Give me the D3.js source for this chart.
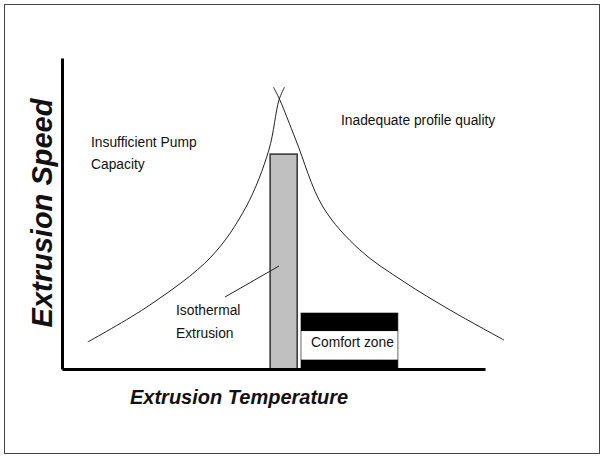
<!DOCTYPE html>
<html>
<head>
<meta charset="utf-8">
<script src="https://cdn.jsdelivr.net/npm/d3@7"></script>
<style>
  body { margin: 0; background: #fff; }
  text { font-family: "Liberation Sans", Arial, sans-serif; fill: #111; }
</style>
</head>
<body>
<div id="chart"></div>
<script>
// curve points, x = temperature, y = speed (both 0-100, conceptual)
var leftCurveX = [6.1, 20.8, 35.2, 43.5, 48.9, 51.3, 52.6];
var leftCurveY = [8.7, 20.6, 36.0, 52.1, 70.4, 86.5, 90.6];
var rightCurveX = [50.0, 51.5, 55.3, 61.7, 70.4, 80.9, 91.7, 104.5];
var rightCurveY = [90.6, 86.5, 73.6, 52.1, 38.3, 28.0, 19.0, 9.3];

var isoBar = {x0: 49.2, x1: 55.6, top: 69.1};
var comfortX = [56.5, 79.4];
var comfortBands = [[12.2, 18.0], [0.3, 3.0]];
var comfortTop = 18.0;

var width = 603, height = 456;
var margin = {top: 58, right: 118, bottom: 87, left: 62};
var chartWidth = width - margin.left - margin.right;
var chartHeight = height - margin.top - margin.bottom;

var svg = d3.select('#chart').append('svg')
    .attr('width', width)
    .attr('height', height);

svg.append('rect')
    .attr('x', 4.5).attr('y', 4.5)
    .attr('width', 595).attr('height', 449)
    .attr('fill', 'none')
    .attr('stroke', '#444')
    .attr('stroke-width', 1);

var g = svg.append('g')
    .attr('transform', `translate(${margin.left}, ${margin.top})`);

var xScale = d3.scaleLinear().domain([0, 100]).range([0, chartWidth]);
var yScale = d3.scaleLinear().domain([0, 100]).range([chartHeight, 0]);

// isothermal bar
g.append('rect')
    .attr('x', xScale(isoBar.x0))
    .attr('y', yScale(isoBar.top))
    .attr('width', xScale(isoBar.x1) - xScale(isoBar.x0))
    .attr('height', yScale(0) - yScale(isoBar.top))
    .attr('fill', '#c0c0c0')
    .attr('stroke', '#333')
    .attr('stroke-width', 1.5);

// comfort zone outline + black bands
g.append('rect')
    .attr('x', xScale(comfortX[0]))
    .attr('y', yScale(comfortTop))
    .attr('width', xScale(comfortX[1]) - xScale(comfortX[0]))
    .attr('height', yScale(0) - yScale(comfortTop))
    .attr('fill', '#fff')
    .attr('stroke', '#666')
    .attr('stroke-width', 1);

g.selectAll('.band')
    .data(comfortBands)
    .enter()
    .append('rect')
    .attr('class', 'band')
    .attr('x', xScale(comfortX[0]))
    .attr('y', d => yScale(d[1]))
    .attr('width', xScale(comfortX[1]) - xScale(comfortX[0]))
    .attr('height', d => yScale(d[0]) - yScale(d[1]))
    .attr('fill', '#000');

// curves
var line = d3.line()
    .x(d => xScale(d[0]))
    .y(d => yScale(d[1]))
    .curve(d3.curveCatmullRom.alpha(0.5));

[[leftCurveX, leftCurveY], [rightCurveX, rightCurveY]].forEach(function(c) {
  g.append('path')
      .datum(c[0].map((x, i) => [x, c[1][i]]))
      .attr('d', line)
      .attr('fill', 'none')
      .attr('stroke', '#222')
      .attr('stroke-width', 1);
});

// axes (plain lines, no ticks)
var xAxis = d3.axisBottom(xScale).tickValues([]).tickSizeOuter(0);
var yAxis = d3.axisLeft(yScale).tickValues([]).tickSizeOuter(0);

g.append('g')
    .attr('transform', `translate(0,${chartHeight})`)
    .call(xAxis)
    .select('.domain').attr('stroke', '#000').attr('stroke-width', 3);

g.append('g')
    .call(yAxis)
    .select('.domain').attr('stroke', '#000').attr('stroke-width', 3);

// pointer to isothermal bar
g.append('line')
    .attr('x1', 225 - margin.left).attr('y1', 297 - margin.top)
    .attr('x2', 279 - margin.left).attr('y2', 266 - margin.top)
    .attr('stroke', '#222').attr('stroke-width', 1);

// labels
var labels = [
  {t: 'Inadequate profile quality', x: 341, y: 125},
  {t: 'Insufficient Pump', x: 91, y: 147},
  {t: 'Capacity', x: 91, y: 169},
  {t: 'Isothermal', x: 176, y: 315},
  {t: 'Extrusion', x: 176, y: 338},
  {t: 'Comfort zone', x: 311, y: 347}
];
svg.selectAll('.lbl')
    .data(labels)
    .enter()
    .append('text')
    .attr('class', 'lbl')
    .attr('x', d => d.x)
    .attr('y', d => d.y)
    .style('font-size', '13.8px')
    .text(d => d.t);

svg.append('text')
    .attr('x', 130)
    .attr('y', 404)
    .style('font-size', '20px')
    .style('font-weight', 'bold')
    .style('font-style', 'italic')
    .text('Extrusion Temperature');

svg.append('text')
    .attr('transform', 'translate(52, 213) rotate(-90)')
    .attr('text-anchor', 'middle')
    .style('font-size', '29px')
    .style('font-weight', 'bold')
    .style('font-style', 'italic')
    .text('Extrusion Speed');
</script>
</body>
</html>
